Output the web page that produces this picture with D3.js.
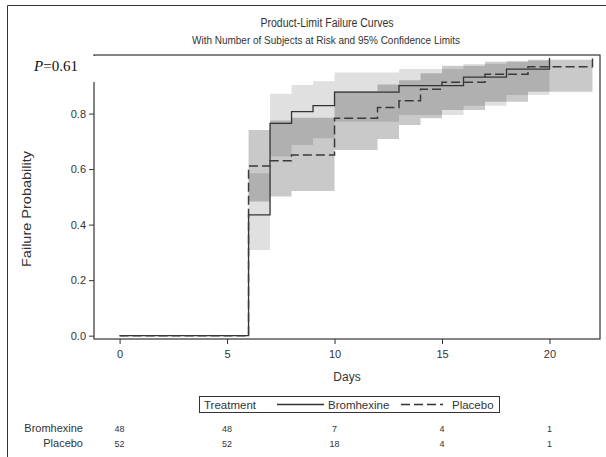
<!DOCTYPE html>
<html>
<head>
<meta charset="utf-8">
<script src="https://cdn.jsdelivr.net/npm/d3@7"></script>
<style>
  body { margin: 0; background: #fff; }
  svg text { font-family: "Liberation Sans", Arial, sans-serif; fill: #333; }
</style>
</head>
<body>
<svg width="606" height="457"></svg>
<script>
// at-risk table
const riskDays = [0, 5, 10, 15, 20];
const bromAtRisk = [48, 48, 7, 4, 1];
const placeboAtRisk = [52, 52, 18, 4, 1];

// failure step curves
const bromTime = [0, 6, 7, 8, 9, 10, 13, 16, 18, 20];
const bromFail = [0, 0.435, 0.765, 0.807, 0.829, 0.877, 0.901, 0.931, 0.960, 1.0];
const placeboTime = [0, 6, 7, 8, 10, 12, 13, 14, 15, 17, 19, 22];
const placeboFail = [0, 0.611, 0.630, 0.651, 0.783, 0.822, 0.846, 0.888, 0.913, 0.942, 0.969, 1.0];

// 95% confidence bands (last entry closes the final step)
const bromBandTime = [6, 7, 8, 9, 10, 13, 16, 18, 20];
const bromLower = [0.309, 0.645, 0.687, 0.711, 0.771, 0.795, 0.828, 0.867, 0.867];
const bromUpper = [0.585, 0.871, 0.903, 0.916, 0.948, 0.961, 0.979, 0.990, 0.990];
const placeboBandTime = [6, 7, 8, 10, 12, 13, 14, 15, 17, 19, 22];
const placeboLower = [0.483, 0.501, 0.521, 0.669, 0.708, 0.759, 0.783, 0.813, 0.843, 0.879, 0.879];
const placeboUpper = [0.741, 0.775, 0.785, 0.880, 0.905, 0.920, 0.945, 0.972, 0.987, 0.994, 0.994];

const xTicks = [0, 5, 10, 15, 20];
const yTicks = [0, 0.2, 0.4, 0.6, 0.8];

const svg = d3.select("svg");
const plotLeft = 94, plotRight = 600, plotTop = 55, plotBottom = 339;

const x = d3.scaleLinear().domain([-1.19, 22.35]).range([plotLeft, plotRight]);
const y = d3.scaleLinear().domain([-0.012, 1.011]).range([plotBottom, plotTop]);

// outer border (left and top visible)
svg.append("path")
    .attr("d", "M7.5,460 V5.5 H610")
    .attr("fill", "none").attr("stroke", "#333").attr("stroke-width", 1);

// titles
svg.append("text").attr("x", 327).attr("y", 27).attr("text-anchor", "middle")
    .attr("textLength", 133).attr("lengthAdjust", "spacingAndGlyphs")
    .style("font-size", "12px").text("Product-Limit Failure Curves");
svg.append("text").attr("x", 326).attr("y", 44).attr("text-anchor", "middle")
    .attr("textLength", 268).attr("lengthAdjust", "spacingAndGlyphs")
    .style("font-size", "10.3px").text("With Number of Subjects at Risk and 95% Confidence Limits");

// bands
function band(times, lo, hi) {
    return times.map((t, i) => ({ t, lo: lo[i], hi: hi[i] }));
}
const area = d3.area().curve(d3.curveStepAfter)
    .x(d => x(d.t)).y0(d => y(d.lo)).y1(d => y(d.hi));

svg.append("path").datum(band(placeboBandTime, placeboLower, placeboUpper))
    .attr("d", area).attr("fill", "#000").attr("fill-opacity", 0.21);
svg.append("path").datum(band(bromBandTime, bromLower, bromUpper))
    .attr("d", area).attr("fill", "#000").attr("fill-opacity", 0.12);

// step lines (placebo on top so its dashes show along the baseline)
const line = d3.line().curve(d3.curveStepAfter).x(d => x(d[0])).y(d => y(d[1]));
svg.append("path").datum(d3.zip(bromTime, bromFail))
    .attr("d", line).attr("fill", "none").attr("stroke", "#333")
    .attr("stroke-width", 1.3);
svg.append("path").datum(d3.zip(placeboTime, placeboFail))
    .attr("d", line).attr("fill", "none").attr("stroke", "#3a3a3a")
    .attr("stroke-width", 1.5).attr("stroke-dasharray", "9,4");

// frame
svg.append("rect").attr("x", plotLeft).attr("y", plotTop)
    .attr("width", plotRight - plotLeft).attr("height", plotBottom - plotTop)
    .attr("fill", "none").attr("stroke", "#333").attr("stroke-width", 1.2);

// inset with p-value covers top of the y axis line
svg.append("rect").attr("x", 30).attr("y", plotTop + 1).attr("width", plotLeft + 1.5 - 30).attr("height", 26)
    .attr("fill", "#fff");
const pText = svg.append("text").attr("x", 34).attr("y", 71)
    .style("font-family", "'Liberation Serif', 'Times New Roman', serif")
    .style("font-size", "15px").style("fill", "#111");
pText.append("tspan").style("font-style", "italic").text("P");
pText.append("tspan").text("=0.61");

// axes
const xAxis = svg.append("g").attr("transform", `translate(0,${plotBottom})`)
    .call(d3.axisBottom(x).tickValues(xTicks).tickSize(5).tickPadding(6).tickFormat(d3.format("d")));
const yAxis = svg.append("g").attr("transform", `translate(${plotLeft},0)`)
    .call(d3.axisLeft(y).tickValues(yTicks).tickSize(5).tickPadding(3).tickFormat(d3.format(".1f")));
[xAxis, yAxis].forEach(g => {
    g.select(".domain").remove();
    g.selectAll(".tick line").attr("stroke", "#333");
    g.selectAll(".tick text").style("font-size", "11px").attr("fill", "#333");
});

svg.append("text").attr("x", (plotLeft + plotRight) / 2).attr("y", 381).attr("text-anchor", "middle")
    .style("font-size", "12px").text("Days");
svg.append("text").attr("transform", "translate(31,209) rotate(-90)").attr("text-anchor", "middle")
    .attr("textLength", 116).attr("lengthAdjust", "spacingAndGlyphs")
    .style("font-size", "12.5px").text("Failure Probability");

// legend
const legend = svg.append("g");
legend.append("rect").attr("x", 199.5).attr("y", 396.5).attr("width", 300).attr("height", 16)
    .attr("fill", "none").attr("stroke", "#333");
legend.append("text").attr("x", 204).attr("y", 408.5).style("font-size", "11.5px").text("Treatment");
legend.append("line").attr("x1", 277).attr("x2", 324).attr("y1", 404.5).attr("y2", 404.5)
    .attr("stroke", "#333").attr("stroke-width", 1.3);
legend.append("text").attr("x", 328).attr("y", 408.5).style("font-size", "11.5px").text("Bromhexine");
legend.append("line").attr("x1", 401).attr("x2", 443).attr("y1", 404.5).attr("y2", 404.5)
    .attr("stroke", "#333").attr("stroke-width", 1.3).attr("stroke-dasharray", "9,4");
legend.append("text").attr("x", 452).attr("y", 408.5).style("font-size", "11.5px").text("Placebo");

// at-risk rows
const rows = [["Bromhexine", bromAtRisk, 432], ["Placebo", placeboAtRisk, 447]];
rows.forEach(([name, vals, yy]) => {
    svg.append("text").attr("x", 83).attr("y", yy).attr("text-anchor", "end")
        .style("font-size", "11px").text(name);
    svg.selectAll(null).data(vals).enter().append("text")
        .attr("x", (d, i) => x(riskDays[i])).attr("y", yy - 0.5)
        .attr("text-anchor", "middle").style("font-size", "9px").text(d => d);
});
</script>
</body>
</html>
